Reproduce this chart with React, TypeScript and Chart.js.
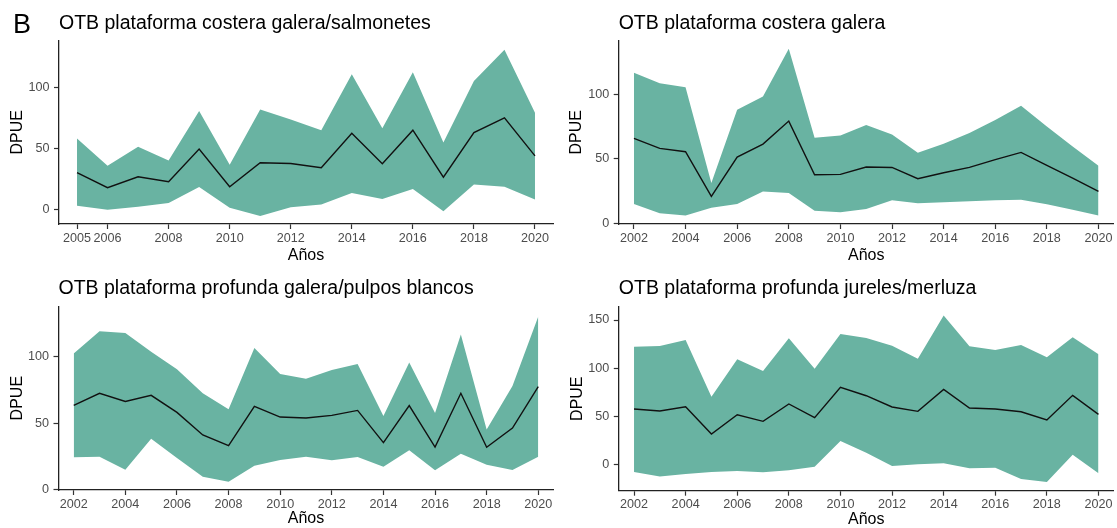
import React, { useEffect, useRef } from "react";
import { Chart, registerables } from "chart.js";

Chart.register(...registerables);

// ---------- data ----------
const yearsA = [2005, 2006, 2007, 2008, 2009, 2010, 2011, 2012, 2013, 2014, 2015, 2016, 2017, 2018, 2019, 2020];
const yearsB = [2002, 2003, 2004, 2005, 2006, 2007, 2008, 2009, 2010, 2011, 2012, 2013, 2014, 2015, 2016, 2017, 2018, 2019, 2020];

const xTicksA = [2005, 2006, 2008, 2010, 2012, 2014, 2016, 2018, 2020];
const xTicksB = [2002, 2004, 2006, 2008, 2010, 2012, 2014, 2016, 2018, 2020];
const yTicks100 = [0, 50, 100];
const yTicks150 = [0, 50, 100, 150];

const title1 = "OTB plataforma costera galera/salmonetes";
const mean1 = [30, 17.5, 26.5, 22.4, 49.2, 18.3, 38, 37.4, 33.9, 62.3, 37.2, 64.8, 26.2, 62.8, 74.9, 43.7];
const upper1 = [57.9, 35.5, 51.1, 39.9, 80.6, 36.3, 81.7, 73.5, 64.8, 110.7, 66.4, 112.3, 54.6, 105.2, 130.9, 79.2];
const lower1 = [2.7, -0.5, 1.9, 4.9, 18, 1.1, -5.7, 1.4, 3.8, 13.1, 8.2, 16.4, -1.9, 20.2, 18.3, 7.9];

const title2 = "OTB plataforma costera galera";
const mean2 = [65.8, 58.1, 55.5, 21.1, 51.4, 61.4, 79.2, 37.8, 38, 43.7, 43.4, 34.7, 39.3, 43.4, 49.4, 55, 45, 35.2, 24.9];
const upper2 = [116.5, 108.5, 105.4, 31.4, 87.9, 98.2, 135, 66.3, 68.1, 76.1, 68.9, 54.8, 61.7, 70, 80, 91, 75, 59.6, 44.7];
const lower2 = [15.2, 8, 6.2, 12.3, 15.2, 24.9, 23.7, 10, 8.7, 11.3, 18, 15.7, 16.5, 17.2, 18, 18.5, 14.9, 10.8, 6.2];

const title3 = "OTB plataforma profunda galera/pulpos blancos";
const mean3 = [63.3, 72.4, 66.3, 70.9, 58, 41, 32.9, 62.6, 54.5, 53.8, 55.8, 59.5, 35.2, 63.1, 31.9, 72.4, 31.7, 46.2, 77.4];
const upper3 = [102.5, 119.1, 117.8, 103.8, 90.5, 72.4, 60.3, 106.5, 86.9, 83.4, 90, 94.5, 55.3, 95.7, 57.5, 116.8, 45.2, 77.9, 130.4];
const lower3 = [24.1, 24.6, 14.8, 38.2, 23.6, 9.5, 5.8, 17.8, 22.1, 24.6, 21.9, 24.4, 17.1, 29.4, 14.3, 26.9, 18.6, 14.6, 24.6];

const title4 = "OTB plataforma profunda jureles/merluza";
const mean4 = [57.7, 55.6, 60.1, 31.8, 51.8, 44.9, 62.9, 48.7, 80.2, 71.5, 59.8, 55.3, 78.1, 58.7, 57.7, 54.9, 46.3, 71.9, 52.2];
const upper4 = [122.3, 123, 129.2, 70.5, 109.2, 97.1, 131, 99.5, 135.5, 131.3, 123.4, 109.9, 154.8, 122.7, 118.9, 124, 111.3, 132, 114.4];
const lower4 = [-7.6, -12.4, -9.7, -7.6, -6.6, -7.9, -5.9, -2.1, 24.5, 12.4, -1.4, 0.3, 1.4, -3.8, -3.1, -14.9, -18, 10.4, -9];

const xLabel = "Años";
const yLabel = "DPUE";
const panelTag = "B";

// ---------- styles ----------
const FONT = "'Liberation Sans', Arial, Helvetica, sans-serif";
const FILL = "#69b3a2";

type Spec = {
  title: string;
  years: number[];
  mean: number[];
  lower: number[];
  upper: number[];
  xTicks: number[];
  yTicks: number[];
  yMin: number;
  yMax: number;
  left: number;
  top: number;
  width: number;
  height: number;
  areaLeft: number;
  areaRight: number;
  areaTop: number;
  areaBottom: number;
  titleMid: number;
  yTitleX: number;
  xTitleY: number;
  tag?: string;
};

const specs: Spec[] = [
  {
    title: title1, years: yearsA, mean: mean1, lower: lower1, upper: upper1,
    xTicks: xTicksA, yTicks: yTicks100, yMin: -12.3, yMax: 138.3,
    left: 0, top: 0, width: 558, height: 264,
    areaLeft: 59, areaRight: 553, areaTop: 40.7, areaBottom: 224,
    titleMid: 23.4, yTitleX: 17.8, xTitleY: 256, tag: panelTag,
  },
  {
    title: title2, years: yearsB, mean: mean2, lower: lower2, upper: upper2,
    xTicks: xTicksB, yTicks: yTicks100, yMin: -0.3, yMax: 141.3,
    left: 558, top: 0, width: 559, height: 264,
    areaLeft: 60.7, areaRight: 555.7, areaTop: 40.7, areaBottom: 224,
    titleMid: 23.4, yTitleX: 18.5, xTitleY: 256,
  },
  {
    title: title3, years: yearsB, mean: mean3, lower: lower3, upper: upper3,
    xTicks: xTicksB, yTicks: yTicks100, yMin: -0.5, yMax: 138,
    left: 0, top: 264, width: 558, height: 264,
    areaLeft: 58.5, areaRight: 553.5, areaTop: 42.3, areaBottom: 226,
    titleMid: 24.4, yTitleX: 17.7, xTitleY: 254.5,
  },
  {
    title: title4, years: yearsB, mean: mean4, lower: lower4, upper: upper4,
    xTicks: xTicksB, yTicks: yTicks150, yMin: -27, yMax: 163.8,
    left: 558, top: 264, width: 559, height: 264,
    areaLeft: 60.8, areaRight: 555.7, areaTop: 42.7, areaBottom: 226.7,
    titleMid: 24.4, yTitleX: 19.2, xTitleY: 256,
  },
];

function Panel({ spec }: { spec: Spec }) {
  const ref = useRef<HTMLCanvasElement | null>(null);

  useEffect(() => {
    const s = spec;
    if (!ref.current) return;
    const pts = (arr: number[]) => s.years.map((x, i) => ({ x, y: arr[i] }));
    const titleSize = 19.5;
    const padTop = s.titleMid - titleSize / 2;
    const padBottom = s.areaTop - padTop - titleSize;

    const tagPlugin = {
      id: "panelTag",
      afterDraw(chart: any) {
        if (!s.tag) return;
        const ctx = chart.ctx;
        ctx.save();
        ctx.font = `27px ${FONT}`;
        ctx.fillStyle = "#000";
        ctx.textAlign = "left";
        ctx.textBaseline = "alphabetic";
        ctx.fillText(s.tag, 13, 32.5);
        ctx.restore();
      },
    };

    const gridOpts = {
      display: true,
      drawOnChartArea: false,
      drawTicks: true,
      tickLength: 5,
      tickColor: "#333",
      tickWidth: 1.2,
    };
    const borderOpts = { display: true, color: "#222", width: 1.3 };

    const chart = new Chart(ref.current, {
      type: "line",
      data: {
        datasets: [
          {
            label: "media",
            data: pts(s.mean),
            borderColor: "#111",
            borderWidth: 1.4,
            pointRadius: 0,
            tension: 0,
            fill: false,
          },
          {
            label: "inferior",
            data: pts(s.lower),
            borderColor: "rgba(0,0,0,0)",
            borderWidth: 0,
            pointRadius: 0,
            tension: 0,
            fill: false,
          },
          {
            label: "superior",
            data: pts(s.upper),
            borderColor: "rgba(0,0,0,0)",
            borderWidth: 0,
            backgroundColor: FILL,
            pointRadius: 0,
            tension: 0,
            fill: 1,
          },
        ],
      },
      options: {
        animation: false,
        responsive: false,
        events: [],
        layout: { padding: { left: 0, right: s.width - s.areaRight, top: 0, bottom: 0 } },
        plugins: {
          legend: { display: false },
          tooltip: { enabled: false },
          title: {
            display: true,
            text: s.title,
            align: "start",
            fullSize: false,
            color: "#000",
            font: { family: FONT, size: titleSize, weight: "normal", lineHeight: 1 },
            padding: { top: padTop, bottom: padBottom },
          },
        },
        scales: {
          x: {
            type: "linear",
            min: s.years[0] - 0.59,
            max: s.years[s.years.length - 1] + 0.59,
            afterBuildTicks: (sc: any) => {
              sc.ticks = s.xTicks.map((v) => ({ value: v }));
            },
            afterFit: (sc: any) => {
              sc.height = s.height - s.areaBottom;
            },
            ticks: {
              callback: (v: any) => String(v),
              color: "#4d4d4d",
              font: { family: FONT, size: 12.6, lineHeight: 1 },
              padding: 3,
              maxRotation: 0,
              autoSkip: false,
            },
            grid: gridOpts,
            border: borderOpts,
            title: {
              display: true,
              text: xLabel,
              color: "#000",
              font: { family: FONT, size: 16, lineHeight: 1 },
              padding: { top: 0, bottom: Math.max(0, s.height - s.xTitleY - 8) },
            },
          },
          y: {
            type: "linear",
            min: s.yMin,
            max: s.yMax,
            afterBuildTicks: (sc: any) => {
              sc.ticks = s.yTicks.map((v) => ({ value: v }));
            },
            afterFit: (sc: any) => {
              sc.width = s.areaLeft;
            },
            ticks: {
              callback: (v: any) => String(v),
              color: "#4d4d4d",
              font: { family: FONT, size: 12.6, lineHeight: 1 },
              padding: 4.5,
            },
            grid: gridOpts,
            border: borderOpts,
            title: {
              display: true,
              text: yLabel,
              color: "#000",
              font: { family: FONT, size: 16, lineHeight: 1 },
              padding: { top: s.yTitleX - 8, bottom: 0 },
            },
          },
        },
      } as any,
      plugins: [tagPlugin],
    });

    return () => chart.destroy();
  }, [spec]);

  return (
    <canvas
      ref={ref}
      width={spec.width}
      height={spec.height}
      style={{
        position: "absolute",
        left: spec.left,
        top: spec.top,
        width: spec.width,
        height: spec.height,
      }}
    />
  );
}

export default function App() {
  return (
    <div
      style={{
        position: "absolute",
        left: 0,
        top: 0,
        width: 1117,
        height: 528,
        background: "#fff",
        overflow: "hidden",
      }}
    >
      {specs.map((s, i) => (
        <Panel key={i} spec={s} />
      ))}
    </div>
  );
}
